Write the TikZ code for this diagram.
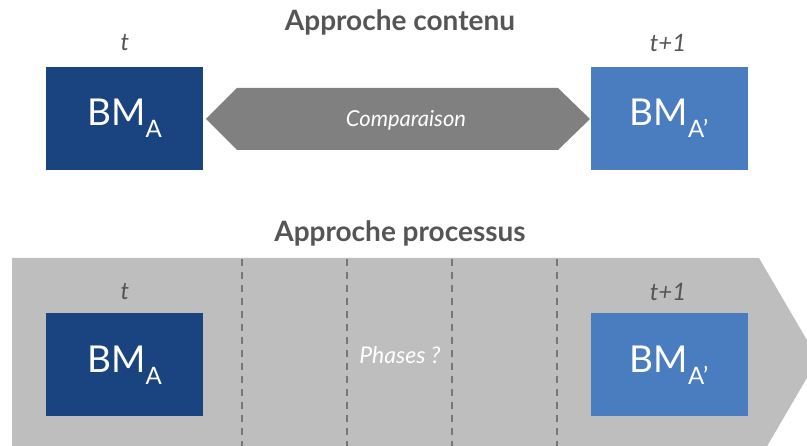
\documentclass[tikz,border=0pt]{standalone}
\usepackage{fontspec}
\setmainfont{Lato}
\definecolor{darkblue}{HTML}{1A4480}
\definecolor{lightblue}{HTML}{4A7CC0}
\definecolor{arrowgray}{HTML}{808080}
\definecolor{bandgray}{HTML}{BEBEBE}
\definecolor{txtgray}{HTML}{555555}
\definecolor{dashgray}{HTML}{777777}
\newcommand{\bmlabel}[1]{BM\raisebox{-0.32em}{\fontsize{24}{24}\selectfont #1}}
\begin{document}
\begin{tikzpicture}[x=1pt,y=-1pt,
  bmbox/.style={minimum width=157pt,minimum height=103pt,inner sep=0pt,text=white,
    font=\fontsize{37}{40}\selectfont},
  timelabel/.style={text=txtgray,font=\fontsize{24}{26}\selectfont\itshape},
  titlelabel/.style={text=txtgray,font=\fontsize{28}{30}\selectfont\bfseries},
  innerlabel/.style={text=white,font=\fontsize{22}{24}\selectfont\itshape},
  phaseline/.style={dashgray,dashed,dash pattern=on 7pt off 6pt,line width=1.2pt}]
\useasboundingbox (0,0) rectangle (807,446);
\begin{scope}
\clip (0,0) rectangle (807,446);
% top
\node[titlelabel] (title1) at (400,22) {Approche contenu};
\node[timelabel] (t1) at (125,43) {t};
\node[timelabel] (t1p) at (668,43) {t+1};
\node[bmbox,fill=darkblue] (a1) at (124.5,118.5) {\bmlabel{A}};
\node[bmbox,fill=lightblue] (b1) at (669,118.5) {\bmlabel{A’}};
\fill[arrowgray] (206,119) -- (237,88) -- (558,88) -- (590,119) -- (558,150) -- (237,150) -- cycle;
\node[innerlabel] (comp) at (406,120) {Comparaison};
% bottom
\node[titlelabel] (title2) at (400,233) {Approche processus};
\fill[bandgray] (12,258) -- (759,258) -- (818,359) -- (759,460) -- (12,460) -- cycle;
\foreach \xx/\nm in {242/d1,347/d2,452/d3,557/d4}{
  \coordinate (\nm top) at (\xx,259);
  \coordinate (\nm bot) at (\xx,446);
  \draw[phaseline] (\nm top) -- (\nm bot);
}
\node[timelabel] (t2) at (125,292) {t};
\node[timelabel] (t2p) at (668,292) {t+1};
\node[bmbox,fill=darkblue] (a2) at (124.5,365) {\bmlabel{A}};
\node[bmbox,fill=lightblue] (b2) at (669,365) {\bmlabel{A’}};
\node[innerlabel,fill=bandgray,inner xsep=2pt,font=\fontsize{23}{25}\selectfont\itshape] (phases) at (400,355) {Phases ?};
\end{scope}
\end{tikzpicture}
\end{document}
